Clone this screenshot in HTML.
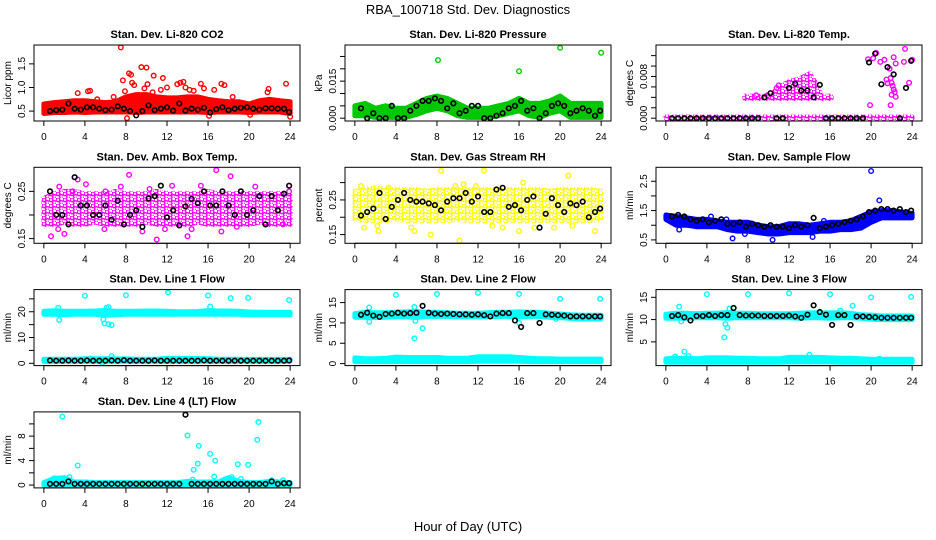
<!DOCTYPE html>
<html><head><meta charset="utf-8">
<style>
html,body{margin:0;padding:0;background:#fff;}
svg{display:block;font-family:"Liberation Sans",Arial,sans-serif;}
</style></head>
<body>
<svg id="chart" width="936" height="540" viewBox="0 0 936 540" xmlns="http://www.w3.org/2000/svg">
<defs id="defs"></defs>
<text x="468" y="14" text-anchor="middle" font-size="13">RBA_100718  Std. Dev. Diagnostics</text>
<text x="468" y="531" text-anchor="middle" font-size="13">Hour of Day (UTC)</text>
</svg>
<script>
const xTicks = [0,4,8,12,16,20,24];
const blackHours = [0.6,1.2,1.8,2.4,3.0,3.6,4.2,4.8,5.4,6.0,6.6,7.2,7.8,8.4,9.0,9.6,10.2,10.8,11.4,12.0,12.6,13.2,13.8,14.4,15.0,15.6,16.2,16.8,17.4,18.0,18.6,19.2,19.8,20.4,21.0,21.6,22.2,22.8,23.4,23.9];
const hours25 = [0,1,2,3,4,5,6,7,8,9,10,11,12,13,14,15,16,17,18,19,20,21,22,23,24];

// Panel 1: CO2
const co2Lo = [0.45,0.47,0.47,0.48,0.47,0.48,0.48,0.48,0.48,0.47,0.48,0.48,0.48,0.48,0.48,0.48,0.47,0.48,0.48,0.48,0.47,0.48,0.48,0.48,0.45];
const co2Hi = [0.65,0.68,0.7,0.72,0.72,0.7,0.68,0.7,0.8,0.85,0.85,0.8,0.78,0.78,0.8,0.8,0.75,0.72,0.7,0.7,0.65,0.72,0.75,0.72,0.7];
const co2OutX = [3.3,4.3,4.5,7.5,7.7,7.9,8.1,8.3,8.5,8.6,8.8,9.5,10,9.8,10.1,10.7,10.6,11.6,11.4,12,13,13.3,13.6,13.8,14.2,14.6,15.3,15.6,16.1,16.6,17.3,17.6,18.4,20.1,21.9,21.8,23.6,24,6.8,5.2];
const co2OutY = [0.88,0.92,0.93,1.85,1.15,0.92,0.35,1.3,1.27,1.1,1.05,1.43,1.42,0.98,1.07,1.25,0.9,1.2,0.95,1.0,1.07,1.1,1.12,1.0,0.95,0.93,1.08,0.98,0.4,0.95,1.08,1.05,0.8,0.42,0.97,0.9,1.08,0.38,0.8,0.75];
const co2Black = [0.5,0.52,0.53,0.66,0.55,0.53,0.58,0.58,0.55,0.52,0.53,0.6,0.55,0.5,0.41,0.5,0.62,0.52,0.55,0.58,0.51,0.66,0.51,0.55,0.53,0.57,0.47,0.54,0.58,0.52,0.55,0.57,0.58,0.55,0.53,0.56,0.56,0.55,0.55,0.48];

// Panel 2: Pressure
const presLo = [0.001,0.001,0.0003,0.0003,0.0003,0.0003,0.0015,0.003,0.004,0.003,0.001,0.0003,0.0003,0.0003,0.001,0.002,0.003,0.001,0.0003,0.002,0.003,0.0003,0.0003,0.0003,0.0003];
const presHi = [0.005,0.006,0.004,0.005,0.004,0.004,0.006,0.008,0.009,0.008,0.006,0.004,0.004,0.004,0.005,0.006,0.008,0.006,0.006,0.007,0.009,0.006,0.006,0.006,0.006];
const presOutX = [8.1,16,20,24];
const presOutY = [0.0235,0.019,0.0285,0.0265];
const presBlack = [0.004,0,0.002,0,0,0.005,0,0,0.003,0.005,0.007,0.007,0.008,0.007,0.004,0.006,0.002,0.003,0.005,0.005,0,0,0.001,0.002,0.004,0.005,0.007,0.003,0.004,0,0.002,0.005,0.006,0.005,0.002,0.003,0.004,0.003,0.001,0.003];

// Panel 3: Temp
const tempZeroHours = [0,24];
const tempZeroLo = [0,0];
const tempZeroHi = [0.0002,0.0002];
const tempMidHours = [7.7,16.1];
const tempMidLo = [0.0038,0.0038];
const tempMidHi = [0.0042,0.0042];
const tempHumpHours = [10.5,11.5,12,13,14,14.5,15];
const tempHumpLo = [0.0042,0.0042,0.0042,0.0042,0.0042,0.0042,0.0042];
const tempHumpHi = [0.005,0.0065,0.007,0.0075,0.0085,0.007,0.005];
const tempOutX = [19.7,20.2,20.5,20.9,21.3,21.5,21.6,21.9,22,22.1,22.2,22.3,22,21.9,22.4,22.4,23.2,23.3,23.7,24,22.2,19.9,21.8,9.9,8.8,10.8,11];
const tempOutY = [0.0113,0.0115,0.0125,0.0108,0.0112,0.0074,0.0067,0.0077,0.0068,0.0062,0.0055,0.005,0.0045,0.0025,0.0041,0.0105,0.0108,0.0133,0.0068,0.0112,0.0117,0.0025,0.0095,0.0044,0.0044,0.0058,0.0063];
const tempBlack = [0,0,0,0,0,0,0,0,0,0,0,0,0,0,0,0.004,0.0048,0,0,0.0058,0.0066,0.0053,0.0053,0.004,0.0064,0,0,0,0,0,0,0,0.0107,0.0124,0.0065,0.0098,0.0084,0,0.0058,0.011];

// Panel 4: Amb box temp
const ambLo = [0.18,0.18,0.185,0.18,0.18,0.185,0.18,0.18,0.18,0.18,0.185,0.18,0.18,0.18,0.18,0.185,0.18,0.18,0.18,0.18,0.18,0.185,0.18,0.18,0.18];
const ambHi = [0.235,0.245,0.25,0.25,0.245,0.245,0.245,0.25,0.245,0.245,0.245,0.25,0.245,0.245,0.245,0.245,0.25,0.245,0.245,0.245,0.245,0.245,0.245,0.245,0.24];
const ambOutX = [0.7,1.4,2,2.8,3.3,4.1,5.9,7.5,8.3,9.6,10.3,11,11.8,12.5,14,14.4,15.3,16.8,17.3,18.2,18.8,20.6,23.3,23.9,1.5,6];
const ambOutY = [0.155,0.17,0.16,0.25,0.275,0.265,0.17,0.26,0.285,0.165,0.255,0.148,0.17,0.262,0.155,0.17,0.262,0.295,0.165,0.282,0.175,0.26,0.18,0.25,0.26,0.25];
const ambBlack = [0.25,0.2,0.2,0.18,0.28,0.22,0.22,0.2,0.2,0.22,0.19,0.23,0.18,0.2,0.21,0.175,0.235,0.24,0.262,0.195,0.21,0.178,0.218,0.234,0.225,0.25,0.22,0.22,0.25,0.22,0.2,0.25,0.2,0.21,0.24,0.18,0.24,0.21,0.245,0.262];

// Panel 5: RH
const rhLo = [0.195,0.19,0.19,0.19,0.195,0.19,0.19,0.19,0.19,0.19,0.195,0.19,0.19,0.19,0.19,0.19,0.19,0.19,0.19,0.19,0.19,0.19,0.19,0.19,0.195];
const rhHi = [0.275,0.28,0.285,0.28,0.28,0.28,0.28,0.275,0.28,0.28,0.28,0.28,0.28,0.28,0.28,0.28,0.28,0.28,0.28,0.275,0.28,0.28,0.28,0.28,0.275];
const rhOutX = [0.6,0.9,2.2,2.3,3.3,5.5,5.8,7.4,8.4,9.8,10.2,10.6,12.6,13.4,14.4,16,16.4,17.5,20.8,23.4,21.2,19.4,0.5,11.8];
const rhOutY = [0.29,0.17,0.175,0.16,0.285,0.17,0.16,0.15,0.334,0.29,0.133,0.295,0.335,0.175,0.17,0.16,0.3,0.17,0.32,0.16,0.175,0.17,0.2,0.29];
const rhBlack = [0.205,0.215,0.225,0.27,0.195,0.23,0.25,0.27,0.25,0.245,0.245,0.24,0.235,0.22,0.245,0.255,0.255,0.27,0.245,0.26,0.215,0.215,0.28,0.285,0.23,0.235,0.22,0.25,0.26,0.17,0.21,0.255,0.235,0.215,0.24,0.235,0.245,0.2,0.215,0.225];

// Panel 6: Sample flow
const sfLo = [1.2,1.0,1.0,0.95,0.95,0.95,0.85,0.8,0.8,0.75,0.7,0.7,0.75,0.75,0.75,0.8,0.8,0.85,0.85,0.9,1.1,1.25,1.25,1.25,1.25];
const sfHi = [1.35,1.3,1.25,1.2,1.2,1.15,1.1,1.1,1.1,1.0,0.95,0.95,1.05,1.05,1.0,1.05,1.1,1.1,1.15,1.3,1.45,1.5,1.5,1.45,1.4];
const sfOutX = [20,20.8,6.5,10.4,14.3,4.4,15.4,5.9,7.7,1.3];
const sfOutY = [2.85,1.85,0.55,0.5,0.6,1.3,1.15,1.2,0.7,0.85];
const sfBlack = [1.3,1.35,1.3,1.2,1.15,1.2,1.1,1.15,1.2,1.05,1.05,1.1,0.95,1.05,1.0,0.95,1.0,0.95,0.95,0.9,1.0,0.95,1.0,1.25,0.9,0.95,1.0,1.05,1.1,1.15,1.2,1.3,1.45,1.5,1.55,1.55,1.5,1.55,1.45,1.5];

// Panel 7: Line 1
const l1HighLo = [19.0,19.0,18.9,19.0,19.0,19.0,18.6,18.8,19.0,19.0,19.0,19.0,19.0,19.0,19.0,19.0,19.0,19.0,19.0,19.0,18.8,18.8,18.8,18.8,18.8];
const l1HighHi = [20.2,20.4,20.2,20.2,20.2,20.3,20.5,20.2,20.2,20.2,20.3,20.3,20.2,20.0,20.0,20.1,20.5,20.3,20.3,20.2,19.9,19.8,19.8,19.8,19.8];
const l1LowLo = [0.7,0.8,0.8,0.8,0.8,0.8,0.8,0.8,0.8,0.8,0.8,0.8,0.8,0.8,0.8,0.8,0.8,0.8,0.8,0.8,0.8,0.8,0.8,0.8,0.8];
const l1LowHi = [1.6,1.6,1.6,1.6,1.8,1.8,1.8,1.7,1.7,1.6,1.6,1.6,1.9,1.9,1.9,1.9,1.8,1.6,1.6,1.6,1.5,1.5,1.5,1.5,1.5];
const l1OutX = [1.4,1.5,4,5.8,5.9,6.1,6.3,6.6,6.3,8,12.1,16,16.2,18.2,19.9,23.9,6.6,5.7,4.5];
const l1OutY = [21.5,16.8,26.2,17,15.5,21.5,21.8,14.8,15.2,26.4,27.5,26.3,22,25.3,25.4,24.5,2.8,0.2,1.8];
const l1Black = [1.1,1.0,1.0,1.1,1.0,1.0,1.1,1.0,1.0,1.0,1.1,1.0,1.2,1.0,1.0,1.0,1.0,1.1,1.0,1.0,1.0,1.0,1.0,1.0,1.0,1.1,1.0,1.0,1.0,1.0,1.0,1.0,1.0,1.0,1.0,1.0,1.0,1.0,1.0,1.1];

// Panel 8: Line 2
const l2HighLo = [11.4,11.4,11.3,11.4,11.5,11.5,11.3,11.6,11.6,11.6,11.5,11.5,11.5,11.5,11.6,11.6,11.5,11.6,11.6,11.4,11.3,11.1,11.0,11.0,11.0];
const l2HighHi = [12.3,12.6,12.5,12.5,12.6,12.7,12.8,12.6,12.6,12.5,12.4,12.4,12.4,12.5,12.6,12.6,12.7,12.6,12.6,12.4,12.2,12.0,11.9,11.9,11.9];
const l2LowLo = [0.5,0.5,0.5,0.5,0.5,0.5,0.5,0.5,0.5,0.5,0.5,0.5,0.6,0.6,0.6,0.6,0.6,0.5,0.5,0.5,0.5,0.5,0.5,0.5,0.5];
const l2LowHi = [1.4,1.2,1.2,1.3,1.6,1.5,1.5,1.5,1.5,1.3,1.3,1.3,1.7,1.7,1.7,1.7,1.5,1.3,1.2,1.2,1.1,1.1,1.1,1.1,1.1];
const l2OutX = [1.4,1.4,4,5.8,5.9,6.6,8,12,16,16,20,23.9,5.8,19.6];
const l2OutY = [13.8,10.3,16.9,6.2,10.5,8.7,17.1,17.4,17.1,10,15.9,15.9,13.9,11];
const l2Black = [12,12.5,11.8,11.5,12.2,12.3,12.5,12.3,12.4,12.5,14.2,12.5,12.3,12.2,12.3,12.2,12.1,12.1,12.0,12.1,11.9,11.6,12.3,12.4,12.4,10.6,9.0,12.4,12.4,10.0,12.1,12.0,11.9,11.8,11.6,11.6,11.6,11.6,11.6,11.6];

// Panel 9: Line 3
const l3HighLo = [10.3,10.3,10.3,10.4,10.4,10.4,10.3,10.4,10.4,10.4,10.4,10.4,10.4,10.3,10.4,10.4,10.3,10.4,10.4,10.3,10.1,10.0,10.0,10.0,10.0];
const l3HighHi = [11.2,11.4,11.4,11.3,11.4,11.4,11.6,11.4,11.4,11.3,11.3,11.3,11.3,11.4,11.5,11.5,11.5,11.5,11.4,11.1,11.0,10.8,10.8,10.8,10.8];
const l3LowLo = [0.4,0.4,0.4,0.4,0.4,0.4,0.4,0.4,0.4,0.4,0.4,0.4,0.5,0.5,0.5,0.5,0.5,0.4,0.4,0.4,0.4,0.4,0.4,0.4,0.4];
const l3LowHi = [1.2,1.3,1.3,1.2,1.4,1.4,1.4,1.3,1.3,1.2,1.2,1.2,1.5,1.5,1.5,1.5,1.4,1.3,1.3,1.2,1.1,1.1,1.1,1.1,1.1];
const l3OutX = [1.3,1.5,1.8,2.2,0.9,4,5.7,5.8,6,6.2,8,12,16,14,18.2,17,20,23.9,20.8];
const l3OutY = [12.9,9.6,2.8,1.8,1.7,15.7,6,9,8.2,12.5,15.7,15.9,15.7,2.1,13.1,12,15,15.1,1.2];
const l3Black = [10.8,11,10.5,9.8,10.8,10.8,11,10.8,11,11,12.6,11,10.9,10.9,10.9,10.8,10.8,10.8,10.8,10.9,10.7,10.4,11.1,13.2,11.7,11.1,8.8,11,11,8.8,10.7,10.7,10.6,10.5,10.4,10.4,10.4,10.4,10.4,10.4];

// Panel 10: Line 4
const l4Lo = [0,0,0,0,0,0,0,0,0,0,0,0,0,0,0,0,0,0,0,0,0,0,0,0,0];
const l4Hi = [0.4,1.1,1.2,0.5,0.5,0.4,0.4,0.4,0.4,0.4,0.4,0.4,0.4,0.4,0.6,0.5,0.5,0.5,1.2,0.6,0.4,0.4,0.6,0.5,0.4];
const l4OutX = [1.8,3.3,14,14.6,15,15.1,14.5,16.2,16.7,16.6,17.6,18.9,19.2,19.9,20.8,20.9,1,2.5,18.3,22.2,23.3];
const l4OutY = [11.2,3.2,8.1,2.5,3.5,6.4,0.9,5.1,4,1.4,0.9,3.4,1,3.3,7.4,10.3,1.1,1.3,1.3,0.8,0.8];
const l4Black = [0.2,0.2,0.2,0.6,0.2,0.2,0.2,0.2,0.2,0.2,0.2,0.2,0.2,0.2,0.2,0.2,0.2,0.2,0.2,0.2,0.2,0.2,11.5,0.2,0.2,0.2,0.2,0.2,0.2,0.2,0.2,0.2,0.2,0.2,0.2,0.2,0.6,0.2,0.3,0.3];

const panels = [
 {name:'co2', title:'Stan. Dev. Li-820 CO2', ylab:'Licor ppm', col:'#ff0000', lim:[0.35,1.84], ticks:[0.5,1.0,1.5], labels:['0.5','1.0','1.5'], pat:false,
  bands:[[hours25,co2Lo,co2Hi]], outX:co2OutX, outY:co2OutY, black:co2Black},
 {name:'pressure', title:'Stan. Dev. Li-820 Pressure', ylab:'kPa', col:'#00c800', lim:[0,0.0285], ticks:[0,0.005,0.01,0.015,0.02,0.025], labels:['0.000','','','0.015','',''], pat:false,
  bands:[[hours25,presLo,presHi]], outX:presOutX, outY:presOutY, black:presBlack},
 {name:'temp', title:'Stan. Dev. Li-820 Temp.', ylab:'degrees C', col:'#ff00ff', lim:[0,0.0135], ticks:[0,0.002,0.004,0.006,0.008,0.010,0.012], labels:['0.000','','','','0.008','',''], pat:true,
  bands:[[tempZeroHours,tempZeroLo,tempZeroHi],[tempMidHours,tempMidLo,tempMidHi],[tempHumpHours,tempHumpLo,tempHumpHi]], outX:tempOutX, outY:tempOutY, black:tempBlack},
 {name:'amb-box-temp', title:'Stan. Dev. Amb. Box Temp.', ylab:'degrees C', col:'#ff00ff', lim:[0.146,0.295], ticks:[0.15,0.2,0.25], labels:['0.15','','0.25'], pat:true,
  bands:[[hours25,ambLo,ambHi]], outX:ambOutX, outY:ambOutY, black:ambBlack},
 {name:'gas-rh', title:'Stan. Dev. Gas Stream RH', ylab:'percent', col:'#ffff00', lim:[0.133,0.336], ticks:[0.15,0.2,0.25,0.3], labels:['0.15','','0.25',''], pat:true,
  bands:[[hours25,rhLo,rhHi]], outX:rhOutX, outY:rhOutY, black:rhBlack},
 {name:'sample-flow', title:'Stan. Dev. Sample Flow', ylab:'ml/min', col:'#0000ff', lim:[0.48,2.88], ticks:[0.5,1.0,1.5,2.0,2.5], labels:['0.5','','1.5','','2.5'], pat:false,
  bands:[[hours25,sfLo,sfHi]], outX:sfOutX, outY:sfOutY, black:sfBlack},
 {name:'line1-flow', title:'Stan. Dev. Line 1 Flow', ylab:'ml/min', col:'#00ffff', lim:[0.2,27.5], ticks:[0,5,10,15,20,25], labels:['0','','10','','20',''], pat:false,
  bands:[[hours25,l1HighLo,l1HighHi],[hours25,l1LowLo,l1LowHi]], outX:l1OutX, outY:l1OutY, black:l1Black},
 {name:'line2-flow', title:'Stan. Dev. Line 2 Flow', ylab:'ml/min', col:'#00ffff', lim:[0.2,17.5], ticks:[0,5,10,15], labels:['0','5','10','15'], pat:false,
  bands:[[hours25,l2HighLo,l2HighHi],[hours25,l2LowLo,l2LowHi]], outX:l2OutX, outY:l2OutY, black:l2Black},
 {name:'line3-flow', title:'Stan. Dev. Line 3 Flow', ylab:'ml/min', col:'#00ffff', lim:[0.3,16.1], ticks:[5,10,15], labels:['5','10','15'], pat:false,
  bands:[[hours25,l3HighLo,l3HighHi],[hours25,l3LowLo,l3LowHi]], outX:l3OutX, outY:l3OutY, black:l3Black},
 {name:'line4-flow', title:'Stan. Dev. Line 4 (LT) Flow', ylab:'ml/min', col:'#00ffff', lim:[0,11.5], ticks:[0,2,4,6,8,10], labels:['0','','4','','8',''], pat:false,
  bands:[[hours25,l4Lo,l4Hi]], outX:l4OutX, outY:l4OutY, black:l4Black}
];

const NS='http://www.w3.org/2000/svg';
const svg=document.getElementById('chart');
const defs=document.getElementById('defs');
function mk(tag,attrs,parent){const e=document.createElementNS(NS,tag);for(const k in attrs)e.setAttribute(k,attrs[k]);(parent||svg).appendChild(e);return e;}

panels.forEach((p,i)=>{
  const r=Math.floor(i/3), c=i%3;
  const L=34+311*c, T=45+122.3*r, W=266, H=76;
  let fillRef=p.col;
  if(p.pat){
    const pid='pat'+i;
    const pt=mk('pattern',{id:pid,patternUnits:'userSpaceOnUse',width:7,height:6},defs);
    mk('circle',{cx:2,cy:1.8,r:1.9,fill:'none',stroke:p.col,'stroke-width':1.4},pt);
    mk('circle',{cx:5.5,cy:4.6,r:1.9,fill:'none',stroke:p.col,'stroke-width':1.4},pt);
    fillRef='url(#'+pid+')';
  }
  const g=mk('g',{});
  
  
  const xScale=v=>L+(v+0.96)*W/25.92;
  const yScale=v=>{const d=p.lim[1]-p.lim[0];const lo=p.lim[0]-0.04*d, hi=p.lim[1]+0.04*d;return T+H-(v-lo)/(hi-lo)*H;};
  const t=mk('text',{x:L+W/2,y:T-7,'text-anchor':'middle','font-size':'11','font-weight':'bold'},g);
  t.textContent=p.title;
  
  
  const pts=mk('g',{},g);
  
  
  p.bands.forEach(b=>{
    const [hx,lo,hi]=b;
    let d='';
    hx.forEach((h,k)=>{d+=(k?'L':'M')+xScale(h).toFixed(1)+','+yScale(hi[k]).toFixed(1);});
    for(let k=hx.length-1;k>=0;k--){d+='L'+xScale(hx[k]).toFixed(1)+','+yScale(lo[k]).toFixed(1);}
    d+='Z';
    const band=mk('path',{d:d,fill:fillRef,stroke:fillRef,'stroke-width':5,'stroke-linejoin':'round'},pts);
    
    
  });
  p.outX.forEach((xv,k)=>{
    const cc=mk('circle',{cx:xScale(xv),cy:yScale(p.outY[k]),r:2.3,fill:'none',stroke:p.col,'stroke-width':1.4},pts);
    
    
  });
  const bg=mk('g',{},g);
  
  
  p.black.forEach((v,k)=>{
    const cc=mk('circle',{cx:xScale(blackHours[k]),cy:yScale(v),r:2.3,fill:'none',stroke:'#000','stroke-width':1.6},bg);
    
    
  });
  const box=mk('rect',{x:L,y:T,width:W,height:H,fill:'none',stroke:'#000','stroke-width':1},g);
  
  
  const xa=mk('g',{},g);
  
  
  mk('line',{x1:xScale(0),x2:xScale(24),y1:T+H,y2:T+H,stroke:'#000'},xa);
  xTicks.forEach(v=>{
    const x=xScale(v);
    mk('line',{x1:x,x2:x,y1:T+H,y2:T+H+5,stroke:'#000'},xa);
    const tl=mk('text',{x:x,y:T+H+19,'text-anchor':'middle','font-size':'10'},xa);
    tl.textContent=v;
    
    
  });
  const ya=mk('g',{},g);
  
  
  mk('line',{x1:L,x2:L,y1:yScale(p.ticks[0]),y2:yScale(p.ticks[p.ticks.length-1]),stroke:'#000'},ya);
  p.ticks.forEach((v,k)=>{
    const y=yScale(v);
    mk('line',{x1:L-5,x2:L,y1:y,y2:y,stroke:'#000'},ya);
    if(p.labels[k]){
      const tl=mk('text',{x:L-9,y:y,'text-anchor':'middle','font-size':'10',transform:'rotate(-90 '+(L-9)+' '+y+')'},ya);
      tl.textContent=p.labels[k];
      
      
    }
  });
  const yl=mk('text',{x:L-23,y:T+H/2,'text-anchor':'middle','font-size':'10',transform:'rotate(-90 '+(L-23)+' '+(T+H/2)+')'},g);
  yl.textContent=p.ylab;
  
  
});
</script>
</body></html>
